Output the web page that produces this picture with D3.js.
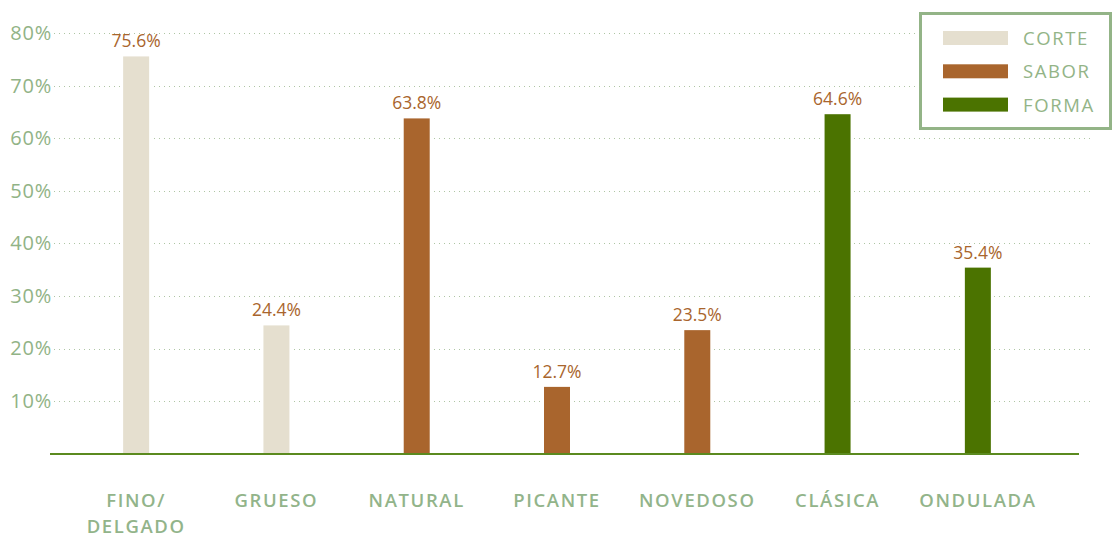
<!DOCTYPE html>
<html>
<head>
<meta charset="utf-8">
<script src="https://cdn.jsdelivr.net/npm/d3@7"></script>
<style>
  body { margin: 0; background: #fff; }
  svg { display: block; font-family: "Open Sans", Lato, sans-serif; }
</style>
</head>
<body>
<svg id="chart" width="1112" height="538"></svg>
<script>
// datos del grafico
const categorias = ['FINO/\nDELGADO', 'GRUESO', 'NATURAL', 'PICANTE', 'NOVEDOSO', 'CLÁSICA', 'ONDULADA'];
const valores = [75.6, 24.4, 63.8, 12.7, 23.5, 64.6, 35.4];
const grupos = ['CORTE', 'CORTE', 'SABOR', 'SABOR', 'SABOR', 'FORMA', 'FORMA'];
const series = ['CORTE', 'SABOR', 'FORMA'];
const colores = ['#e5dfcf', '#a9652d', '#4b7300'];
const ticksY = [10, 20, 30, 40, 50, 60, 70, 80];

const svg = d3.select('#chart');

const x = d3.scaleBand()
    .domain(categorias)
    .range([66, 1048]);

const y = d3.scaleLinear()
    .domain([0, 80])
    .range([453.6, 33.3]);

const color = d3.scaleOrdinal().domain(series).range(colores);

// lineas de grilla punteadas
svg.append('g')
    .selectAll('line')
    .data(ticksY)
    .join('line')
    .attr('x1', 54)
    .attr('x2', 1092)
    .attr('y1', d => Math.round(y(d)) + 0.5)
    .attr('y2', d => Math.round(y(d)) + 0.5)
    .attr('stroke', '#aec5a4')
    .attr('stroke-width', 1)
    .attr('stroke-dasharray', '1,4');

// eje y
const ejeY = svg.append('g')
    .attr('transform', 'translate(52,0)')
    .call(d3.axisLeft(y).tickValues(ticksY).tickSize(0).tickPadding(0).tickFormat(d => d + '%'));
ejeY.select('.domain').remove();
ejeY.selectAll('text')
    .attr('fill', '#91b386')
    .attr('font-size', 20)
    .attr('letter-spacing', 0.8)
    .attr('font-family', '"Open Sans", sans-serif');

// barras con margen blanco a los lados
const barW = 26;
const barras = svg.append('g');
barras.selectAll('rect.fondo')
    .data(valores)
    .join('rect')
    .attr('class', 'fondo')
    .attr('x', (d, i) => x(categorias[i]) + x.bandwidth() / 2 - barW / 2 - 3)
    .attr('y', d => y(d))
    .attr('width', barW + 6)
    .attr('height', d => y(0) - y(d))
    .attr('fill', '#fff');

barras.selectAll('rect.barra')
    .data(valores)
    .join('rect')
    .attr('class', 'barra')
    .attr('x', (d, i) => x(categorias[i]) + x.bandwidth() / 2 - barW / 2)
    .attr('y', d => y(d))
    .attr('width', barW)
    .attr('height', d => y(0) - y(d))
    .attr('fill', (d, i) => color(grupos[i]));

// etiquetas de valor
svg.append('g')
    .selectAll('text')
    .data(valores)
    .join('text')
    .attr('x', (d, i) => x(categorias[i]) + x.bandwidth() / 2)
    .attr('y', d => y(d) - 9)
    .attr('text-anchor', 'middle')
    .attr('fill', '#a9652d')
    .attr('font-size', 17.5)
    .text(d => d.toFixed(1) + '%');

// linea base
svg.append('line')
    .attr('x1', 50)
    .attr('x2', 1079)
    .attr('y1', y(0) + 0.5)
    .attr('y2', y(0) + 0.5)
    .attr('stroke', '#5b8a1f')
    .attr('stroke-width', 2);

// etiquetas de categoria
const etiquetas = svg.append('g')
    .selectAll('text')
    .data(categorias)
    .join('text')
    .attr('x', d => x(d) + x.bandwidth() / 2)
    .attr('y', 507)
    .attr('text-anchor', 'middle')
    .attr('fill', '#92b48a')
    .attr('font-size', 18.5)
    .attr('font-weight', 600)
    .attr('letter-spacing', 1.6);

etiquetas.each(function(d) {
    const t = d3.select(this);
    d.split('\n').forEach((linea, k) => {
        t.append('tspan')
            .attr('x', x(d) + x.bandwidth() / 2)
            .attr('dy', k === 0 ? 0 : 26)
            .text(linea);
    });
});

// leyenda
const leyenda = svg.append('g');
leyenda.append('rect')
    .attr('x', 920.5)
    .attr('y', 13.5)
    .attr('width', 190)
    .attr('height', 115)
    .attr('fill', '#fff')
    .attr('stroke', '#93b487')
    .attr('stroke-width', 3);

const items = leyenda.selectAll('g.item')
    .data(series)
    .join('g')
    .attr('class', 'item')
    .attr('transform', (d, i) => `translate(943,${31 + i * 33.3})`);

items.append('rect')
    .attr('width', 65)
    .attr('height', 14)
    .attr('fill', d => color(d));

items.append('text')
    .attr('x', 80)
    .attr('y', 14)
    .attr('fill', '#93b487')
    .attr('font-size', 18.5)
    .attr('letter-spacing', 1.6)
    .text(d => d);
</script>
</body>
</html>
